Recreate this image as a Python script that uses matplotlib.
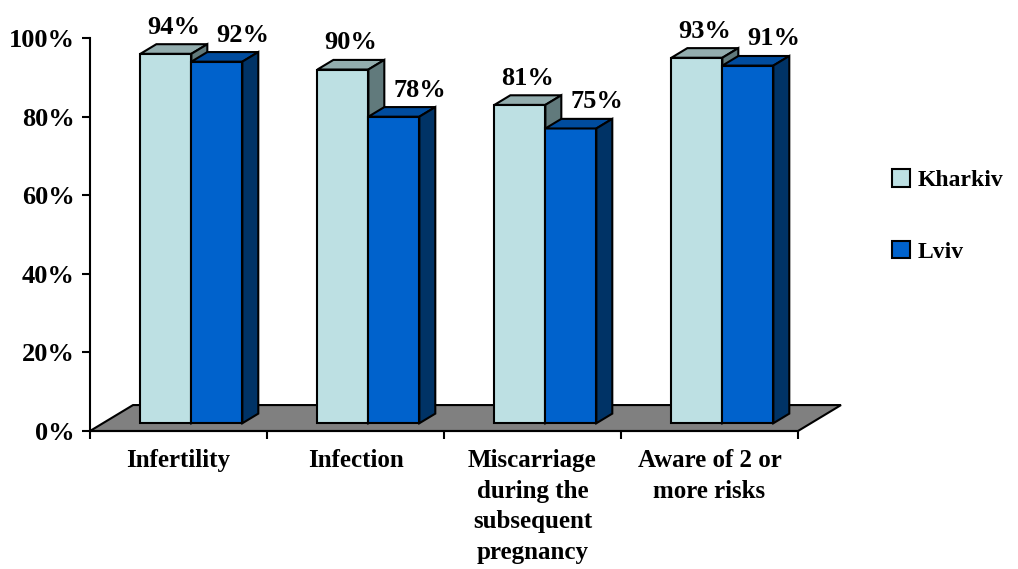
import matplotlib.pyplot as plt
from matplotlib.patches import Polygon, Patch

plt.rcParams['font.family'] = 'Liberation Serif'
plt.rcParams['font.weight'] = 'bold'

categories = ['Infertility', 'Infection',
              'Miscarriage\nduring the\nsubsequent\npregnancy',
              'Aware of 2 or\nmore risks']
kharkiv = [94, 90, 81, 93]
lviv = [92, 78, 75, 91]

# face colours: front, top, side
kh_colors = ('#BDE0E3', '#93ADAE', '#617A7C')
lv_colors = ('#0062CC', '#004C9E', '#003366')

# oblique projection of the depth axis (x units, percent units)
DX, DY = 0.243, 6.6
Z0, DEPTH = 0.30, 0.37
W = 0.288

fig = plt.figure(figsize=(10.18, 5.69), dpi=100)
ax = fig.add_axes([90 / 1018, 138 / 569, 708 / 1018, 393 / 569])
ax.set_xlim(0, 4)
ax.set_ylim(0, 100)


def box(x0, h, colors, label_dx):
    fx, fy = Z0 * DX, Z0 * DY
    bx, by = (Z0 + DEPTH) * DX, (Z0 + DEPTH) * DY
    front = [(x0 + fx, fy), (x0 + W + fx, fy), (x0 + W + fx, h + fy), (x0 + fx, h + fy)]
    top = [(x0 + fx, h + fy), (x0 + W + fx, h + fy), (x0 + W + bx, h + by), (x0 + bx, h + by)]
    side = [(x0 + W + fx, fy), (x0 + W + bx, by), (x0 + W + bx, h + by), (x0 + W + fx, h + fy)]
    for pts, c in zip((front, top, side), colors):
        ax.add_patch(Polygon(pts, closed=True, facecolor=c, edgecolor='black',
                             lw=1.5, zorder=3, clip_on=False))
    ax.annotate(f'{h}%', xy=(x0 + W / 2 + bx, h + by), xytext=(label_dx, 4),
                textcoords='offset points', ha='center', va='bottom',
                fontsize=19, fontweight='bold', zorder=5, annotation_clip=False)


# floor
floor = Polygon([(0, 0), (4, 0), (4 + DX, DY), (DX, DY)], closed=True,
                facecolor='#808080', edgecolor='black', lw=1.5, zorder=1, clip_on=False)
ax.add_patch(floor)

for i in range(len(categories)):
    c = i + 0.5
    box(c - W, kharkiv[i], kh_colors, -6)
    box(c, lviv[i], lv_colors, 7)

for s in ('top', 'right'):
    ax.spines[s].set_visible(False)
for s in ('left', 'bottom'):
    ax.spines[s].set_linewidth(1.5)
    ax.spines[s].set_zorder(2)

ax.set_yticks(range(0, 101, 20))
ax.set_yticklabels([f'{v}%' for v in range(0, 101, 20)], fontsize=19, fontweight='bold')
ax.set_xticks(range(5))
ax.set_xticklabels([])
ax.set_xticks([i + 0.5 for i in range(4)], minor=True)
ax.set_xticklabels(categories, minor=True, fontsize=18, fontweight='bold',
                   linespacing=1.42, va='top')
ax.tick_params(axis='both', which='major', length=6, width=1.5, direction='out', pad=5)
ax.tick_params(axis='x', which='minor', length=0, pad=13)

handles = [Patch(facecolor=kh_colors[0], edgecolor='black', lw=1.5),
           Patch(facecolor=lv_colors[0], edgecolor='black', lw=1.5)]
fig.legend(handles, ['Kharkiv', 'Lviv'], loc='center left',
           bbox_to_anchor=(892 / 1018, (569 - 216) / 569), frameon=False,
           prop={'size': 17, 'weight': 'bold'}, handlelength=0.75, handleheight=0.75,
           handletextpad=0.35, labelspacing=2.1, borderpad=0, borderaxespad=0)

fig.savefig('out.png', dpi=100)
